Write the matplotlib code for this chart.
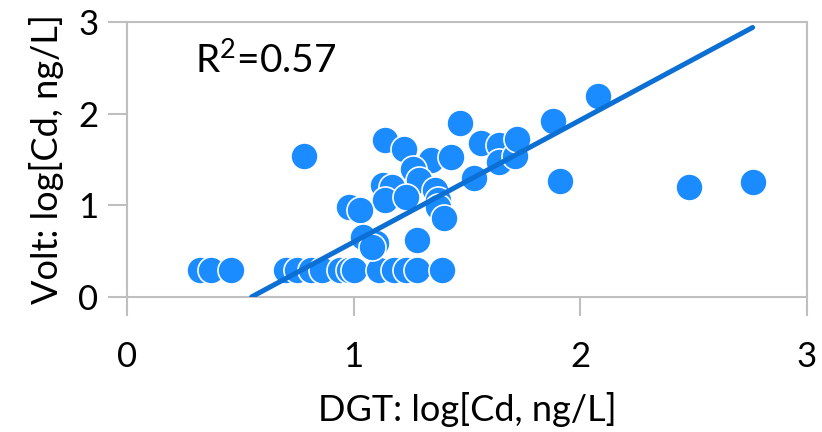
import matplotlib.pyplot as plt
import numpy as np

# DGT vs voltammetry, log[Cd, ng/L]
dgt = [0.32, 0.37, 0.46, 0.70, 0.75, 0.81, 0.86, 0.94, 0.98, 1.00, 1.11, 1.18, 1.23, 1.28, 1.39,
       0.78, 1.14, 1.22, 1.34, 1.43, 1.26, 1.29, 1.13, 1.17, 1.14, 1.23, 1.36, 1.37, 1.37, 1.40,
       0.98, 1.03, 1.04, 1.10, 1.08, 1.28, 1.47, 1.53, 1.56, 1.64, 1.64, 1.71, 1.72, 1.88, 1.91,
       2.08, 2.48, 2.76]
volt = [0.30, 0.30, 0.30, 0.30, 0.30, 0.30, 0.30, 0.30, 0.30, 0.30, 0.30, 0.30, 0.30, 0.30, 0.30,
        1.54, 1.71, 1.62, 1.49, 1.53, 1.40, 1.28, 1.22, 1.20, 1.06, 1.09, 1.17, 1.06, 0.98, 0.86,
        0.98, 0.95, 0.66, 0.59, 0.55, 0.62, 1.90, 1.30, 1.68, 1.66, 1.47, 1.54, 1.72, 1.92, 1.27,
        2.19, 1.20, 1.26]

# linear trend shown in the chart
slope = 1.33
intercept = -0.73
trend_x = [0.55, 2.76]
r2_label = "R$^2$=0.57"

plt.rcParams['font.family'] = ['Lato', 'DejaVu Sans']
plt.rcParams['mathtext.default'] = 'regular'

fig = plt.figure(figsize=(8.22, 4.32), dpi=100)
ax = fig.add_axes([0.1545, 0.3125, 0.8273, 0.6365])

ax.scatter(dgt, volt, s=380, color='#1a8cff', edgecolors='white', linewidths=1.2, zorder=3)
tx = np.array(trend_x)
ax.plot(tx, slope * tx + intercept, color='#0b6fd3', lw=3.6, solid_capstyle='round', zorder=4)

ax.text(0.30, 2.58, r2_label, fontsize=28, va='center', ha='left')

ax.set_xlim(0, 3)
ax.set_ylim(0, 3)
ax.set_xticks([0, 1, 2, 3])
ax.set_yticks([0, 1, 2, 3])
for s in ax.spines.values():
    s.set_color('#bfbfbf')
    s.set_linewidth(1.5)
ax.tick_params(axis='both', direction='out', length=13.5, width=1.5, color='#bfbfbf',
               labelsize=25)
ax.tick_params(axis='x', pad=18)
ax.tick_params(axis='y', pad=7)
ax.set_xlabel('DGT: log[Cd, ng/L]', fontsize=26, labelpad=14)
ax.set_ylabel('Volt: log[Cd, ng/L]', fontsize=26, labelpad=10)

fig.savefig('out.png', dpi=100)
